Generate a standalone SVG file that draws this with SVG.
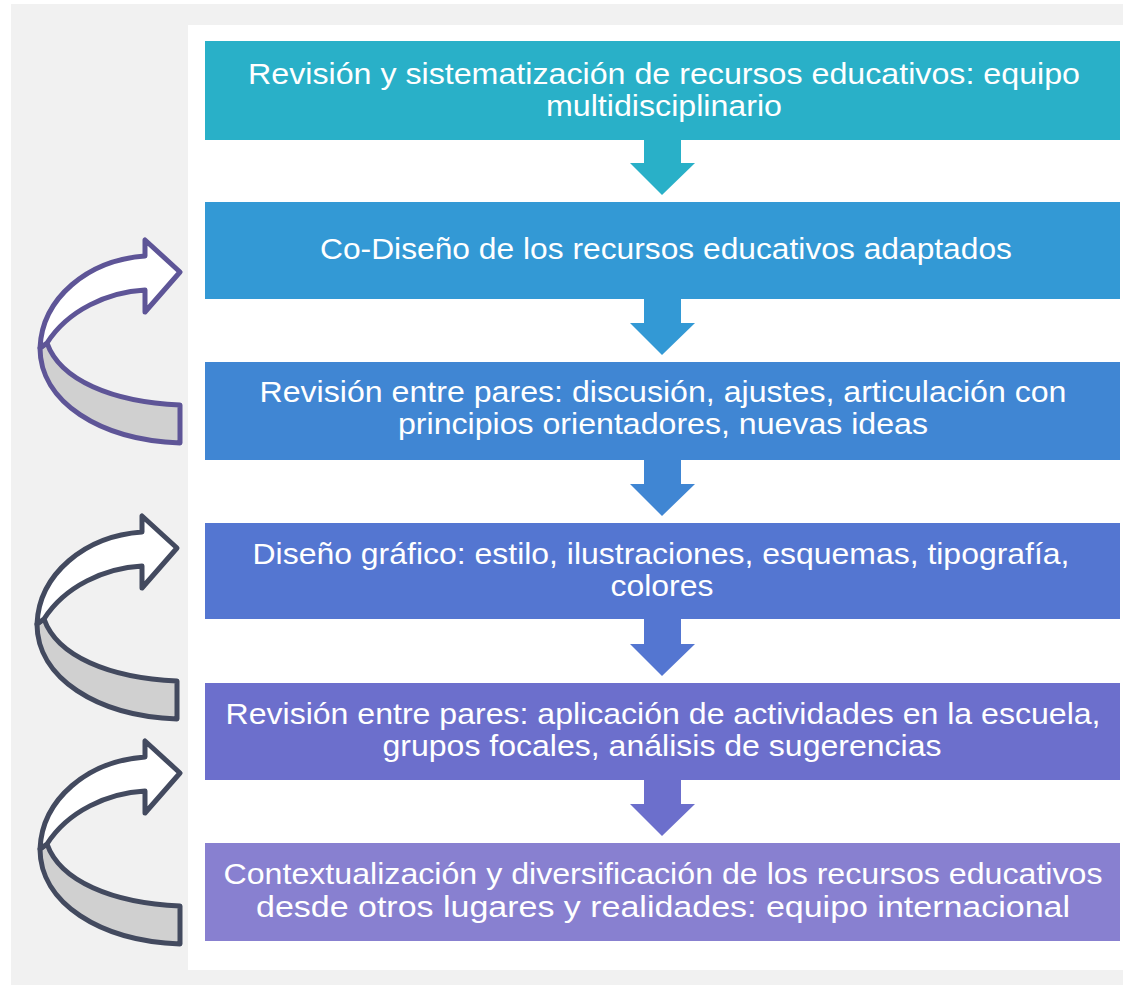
<svg xmlns="http://www.w3.org/2000/svg" width="1123" height="985" viewBox="0 0 1123 985">
<defs>
<style>
.lbl{font-family:"Liberation Sans",Arial,sans-serif;font-size:29px;fill:#ffffff;text-anchor:middle}
.band{stroke-width:5;stroke-linejoin:round}
</style>
<g id="curl">
<path class="band" fill="#d0d0d0" d="M40,348 C40,402 100,440 180,443 L180,405 C112,402 60,380 47,343 Z"/>
<path class="band" fill="#ffffff" d="M47,343 C68,310 108,292 145,290 L145,312 L180,272 L145,240 L145,256 C88,260 42,298 40,348 Z"/>
</g>
</defs>
<rect x="0" y="0" width="1123" height="985" fill="#ffffff"/>
<rect x="11" y="4" width="1112" height="981" fill="#f1f1f1"/>
<rect x="188" y="25" width="935" height="945" fill="#ffffff"/>

<g id="connectors">
<path fill="#29b0c8" d="M644,138 H681 V163 H695 L662,195 L630,163 H644 Z"/>
<path fill="#3399d5" d="M644,297 H681 V323 H695 L662,355 L630,323 H644 Z"/>
<path fill="#4086d3" d="M644,458 H681 V484 H695 L662,516 L630,484 H644 Z"/>
<path fill="#5476d1" d="M644,617 H681 V644 H695 L662,676 L630,644 H644 Z"/>
<path fill="#6c6fcc" d="M644,778 H681 V804 H695 L662,836 L630,804 H644 Z"/>
<use href="#curl" stroke="#5e5597"/>
<use href="#curl" stroke="#434a5f" transform="translate(-3,276)"/>
<use href="#curl" stroke="#434a5f" transform="translate(0,501)"/>
</g>

<g id="n1">
<rect x="205" y="41" width="915" height="99" fill="#29b0c8"/>
<text class="lbl" x="664" y="84" textLength="832" lengthAdjust="spacingAndGlyphs">Revisión y sistematización de recursos educativos: equipo</text>
<text class="lbl" x="664" y="116" textLength="236" lengthAdjust="spacingAndGlyphs">multidisciplinario</text>
</g>
<g id="n2">
<rect x="205" y="202" width="915" height="97" fill="#3399d5"/>
<text class="lbl" x="666" y="259" textLength="692" lengthAdjust="spacingAndGlyphs">Co-Diseño de los recursos educativos adaptados</text>
</g>
<g id="n3">
<rect x="205" y="362" width="915" height="98" fill="#4086d3"/>
<text class="lbl" x="663" y="402" textLength="807" lengthAdjust="spacingAndGlyphs">Revisión entre pares: discusión, ajustes, articulación con</text>
<text class="lbl" x="663" y="434" textLength="530" lengthAdjust="spacingAndGlyphs">principios orientadores, nuevas ideas</text>
</g>
<g id="n4">
<rect x="205" y="523" width="915" height="96" fill="#5476d1"/>
<text class="lbl" x="661" y="564" textLength="817" lengthAdjust="spacingAndGlyphs">Diseño gráfico: estilo, ilustraciones, esquemas, tipografía,</text>
<text class="lbl" x="662" y="596" textLength="103" lengthAdjust="spacingAndGlyphs">colores</text>
</g>
<g id="n5">
<rect x="205" y="683" width="915" height="97" fill="#6c6fcc"/>
<text class="lbl" x="663" y="724" textLength="875" lengthAdjust="spacingAndGlyphs">Revisión entre pares: aplicación de actividades en la escuela,</text>
<text class="lbl" x="662" y="756" textLength="559" lengthAdjust="spacingAndGlyphs">grupos focales, análisis de sugerencias</text>
</g>
<g id="n6">
<rect x="205" y="843" width="915" height="98" fill="#8880d0"/>
<text class="lbl" x="663" y="884" textLength="879" lengthAdjust="spacingAndGlyphs">Contextualización y diversificación de los recursos educativos</text>
<text class="lbl" x="663" y="917" textLength="814" lengthAdjust="spacingAndGlyphs">desde otros lugares y realidades: equipo internacional</text>
</g>
</svg>
